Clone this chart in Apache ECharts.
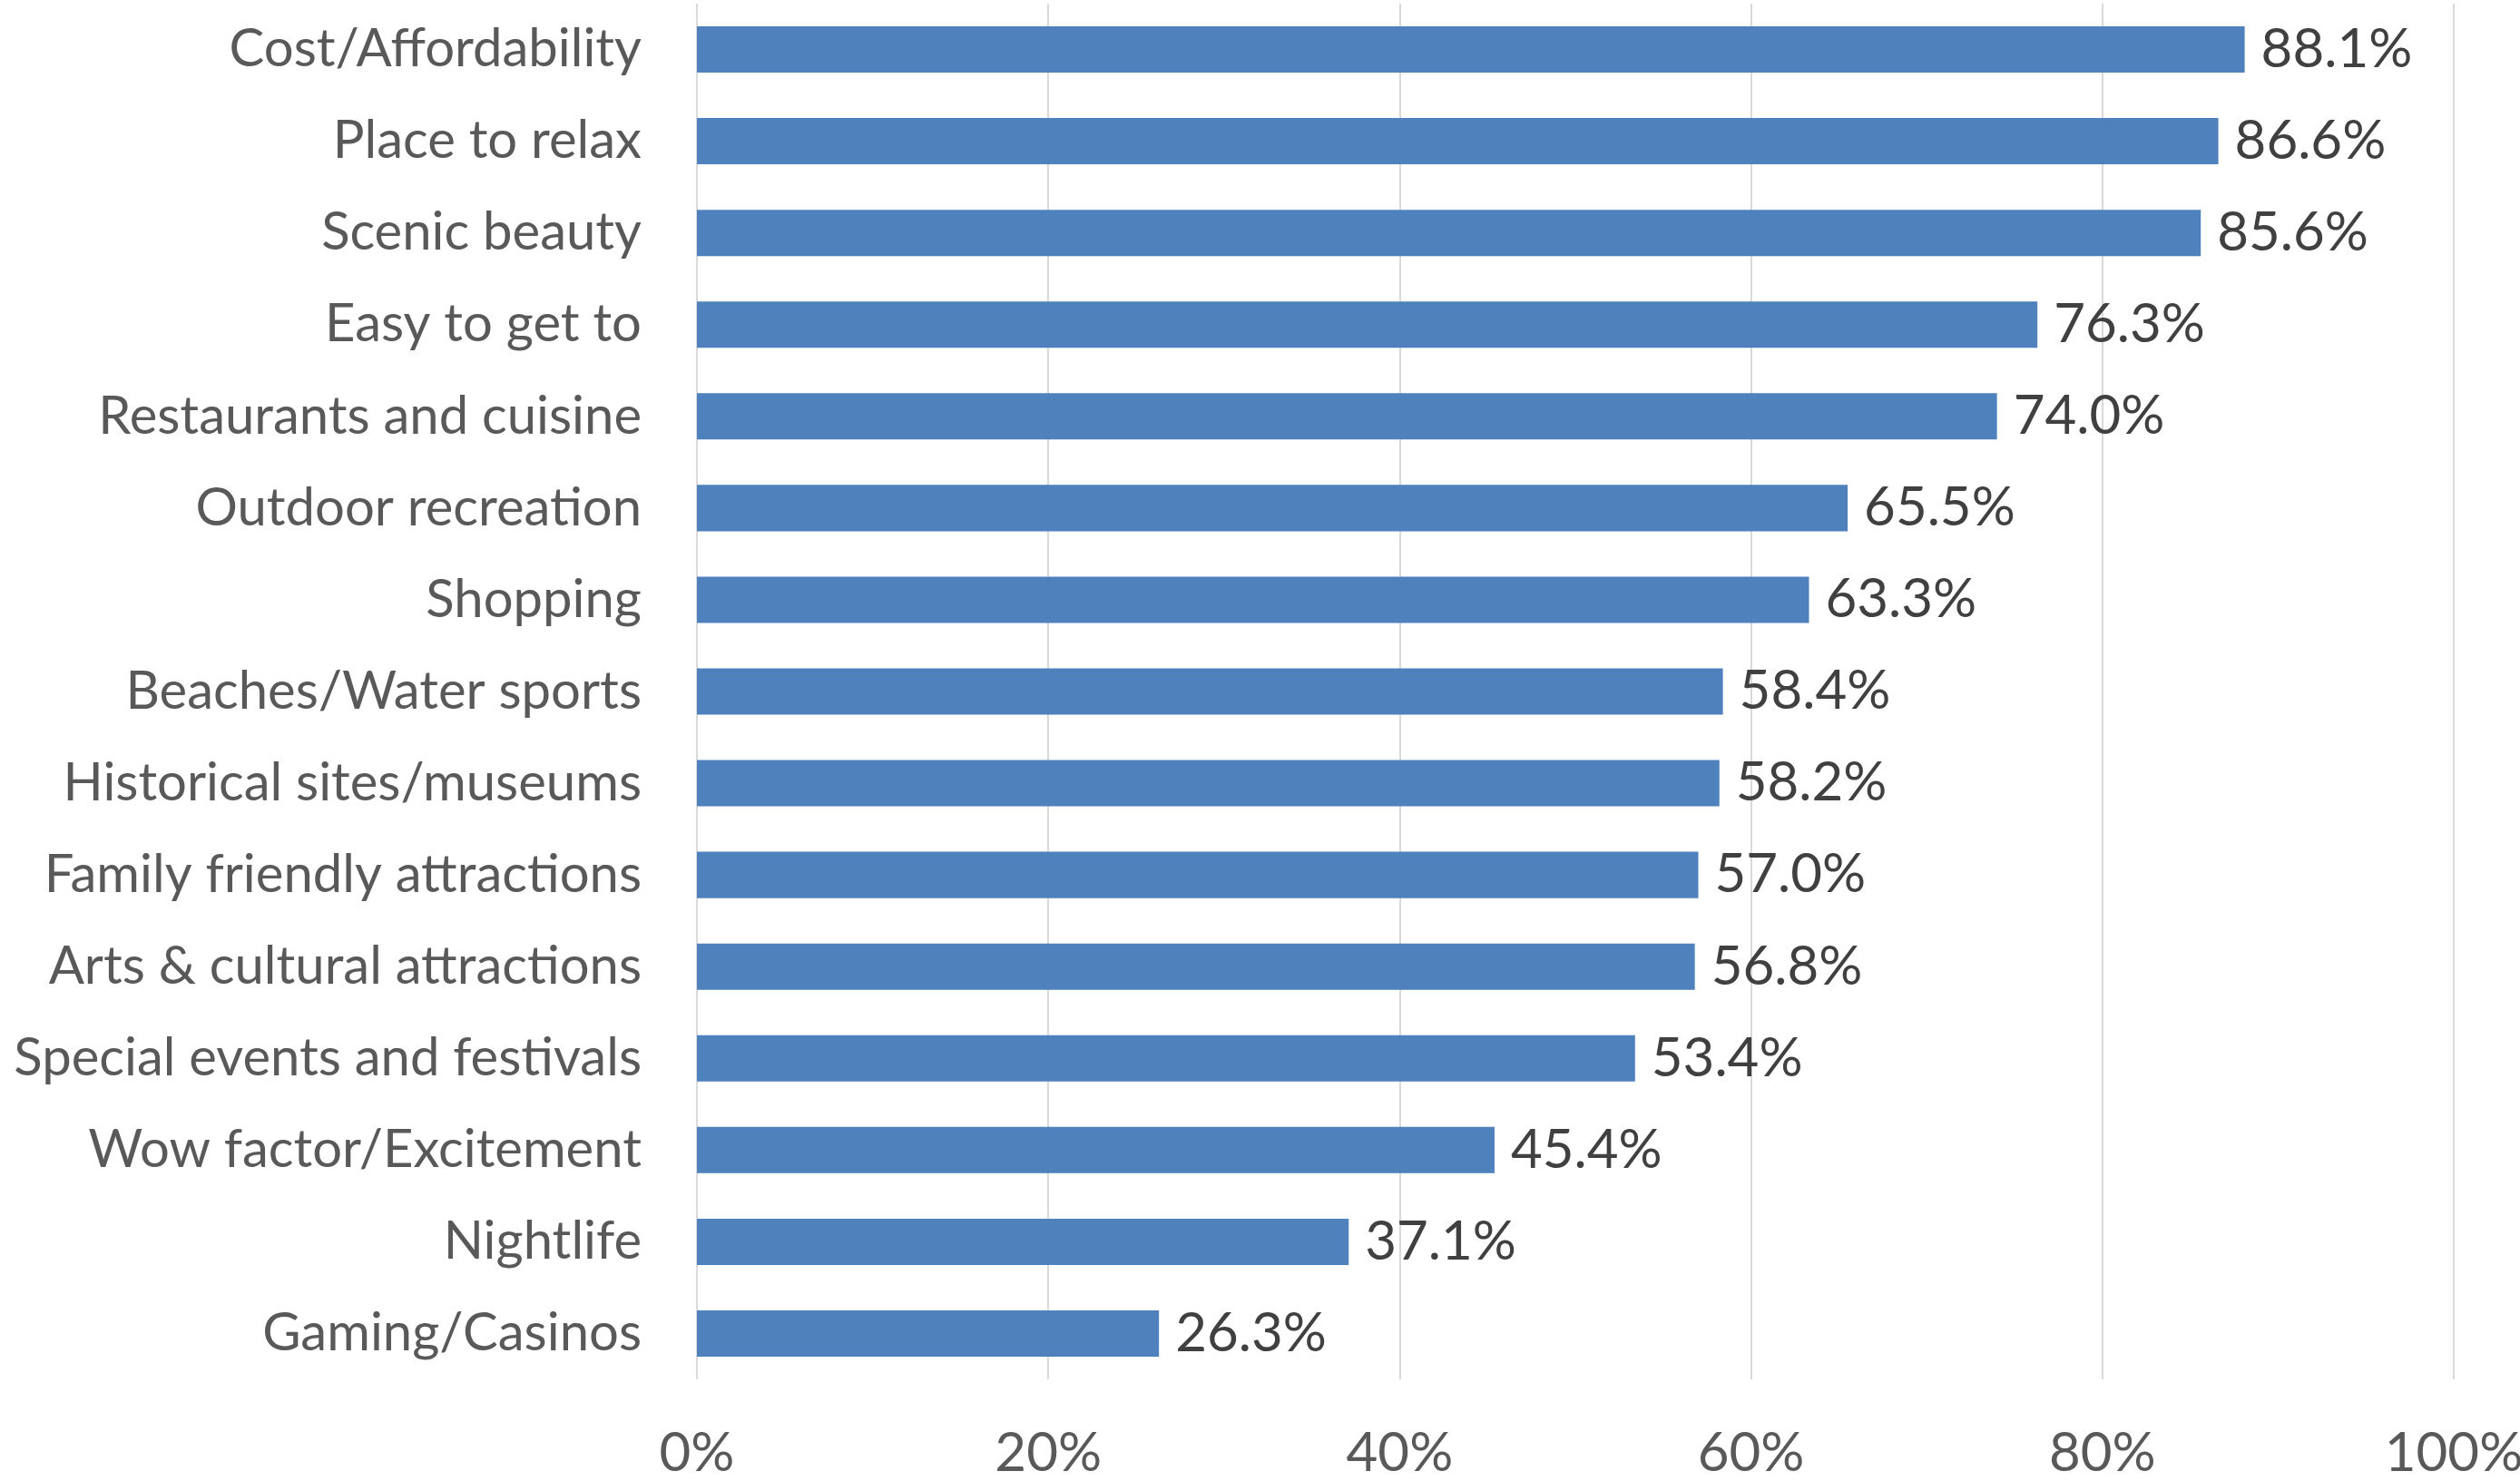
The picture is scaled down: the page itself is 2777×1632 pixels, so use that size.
<!DOCTYPE html>
<html>
<head>
<meta charset="utf-8">
<script src="https://cdn.jsdelivr.net/npm/echarts@6/dist/echarts.min.js"></script>
<style>
  html, body { margin: 0; padding: 0; background: #ffffff; overflow: hidden; }
  #chart { width: 2777px; height: 1632px; }
</style>
</head>
<body>
<div id="chart"></div>
<script>
// Destination attributes, listed top to bottom
const categories = [
  'Cost/Affordability',
  'Place to relax',
  'Scenic beauty',
  'Easy to get to',
  'Restaurants and cuisine',
  'Outdoor recreation',
  'Shopping',
  'Beaches/Water sports',
  'Historical sites/museums',
  'Family friendly attractions',
  'Arts & cultural attractions',
  'Special events and festivals',
  'Wow factor/Excitement',
  'Nightlife',
  'Gaming/Casinos'
];

// Share of respondents rating each attribute (percent)
const shares = [88.1, 86.6, 85.6, 76.3, 74.0, 65.5, 63.3, 58.4, 58.2, 57.0, 56.8, 53.4, 45.4, 37.1, 26.3];

// Value axis ticks (percent)
const axisMin = 0;
const axisMax = 100;
const axisStep = 20;

const FONT = 'Lato, "Open Sans", sans-serif';

const chart = echarts.init(document.getElementById('chart'), null, { renderer: 'canvas' });

chart.setOption({
  backgroundColor: '#ffffff',
  animation: false,
  grid: {
    left: 768,
    right: 73,
    top: 4,
    bottom: 112,
    containLabel: false,
    outerBoundsMode: 'none'
  },
  xAxis: {
    type: 'value',
    min: axisMin,
    max: axisMax,
    interval: axisStep,
    axisLine: { show: false },
    axisTick: { show: false },
    splitLine: { show: true, lineStyle: { color: '#D9D9D9', width: 2 } },
    axisLabel: {
      color: '#595959',
      fontFamily: FONT,
      fontSize: 60,
      lineHeight: 60,
      margin: 52,
      formatter: v => v + '%'
    }
  },
  yAxis: {
    type: 'category',
    data: categories,
    inverse: true,
    axisLine: { show: false },
    axisTick: { show: false },
    splitLine: { show: false },
    axisLabel: {
      color: '#595959',
      fontFamily: FONT,
      fontSize: 58,
      margin: 61
    }
  },
  series: [{
    type: 'bar',
    data: shares,
    barCategoryGap: '49.5%',
    itemStyle: { color: '#4F81BD' },
    label: {
      show: true,
      position: 'right',
      distance: 18,
      color: '#404040',
      fontFamily: FONT,
      fontSize: 60,
      formatter: p => p.value.toFixed(1) + '%'
    }
  }]
});
</script>
</body>
</html>
